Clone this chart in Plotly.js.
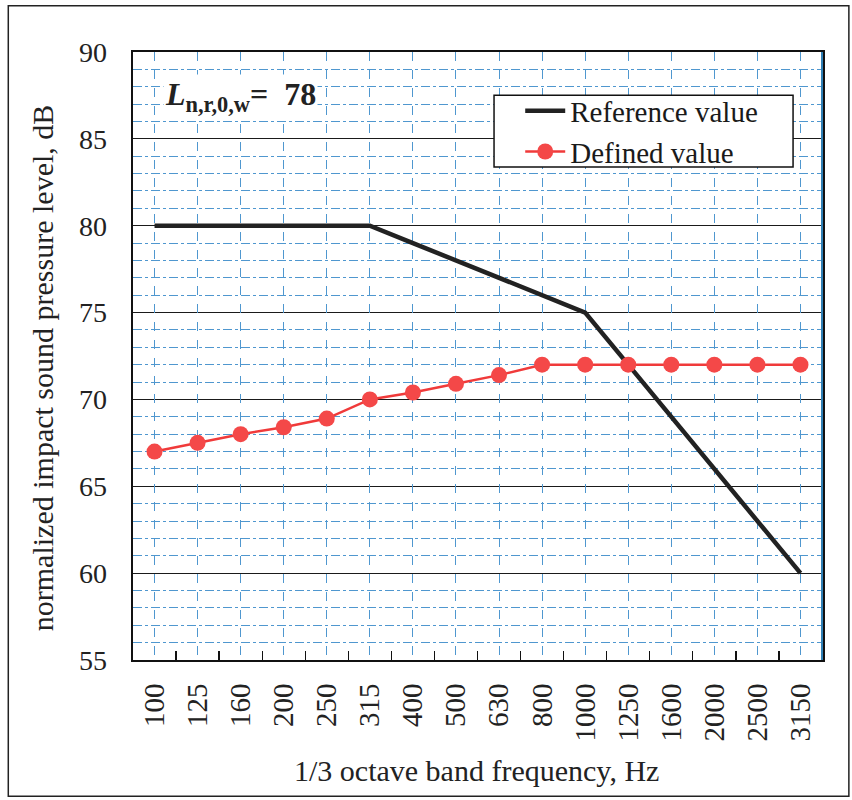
<!DOCTYPE html>
<html>
<head>
<meta charset="utf-8">
<script src="https://cdn.plot.ly/plotly-3.0.1.min.js"></script>
<style>
  html, body { margin: 0; padding: 0; background: #fff; }
  #chart { width: 852px; height: 800px; }
</style>
</head>
<body>
<div id="chart"></div>
<script>
// 1/3 octave band centre frequencies (Hz)
const frequencies = ["100", "125", "160", "200", "250", "315", "400", "500",
                     "630", "800", "1000", "1250", "1600", "2000", "2500", "3150"];
// Reference curve (shifted ISO 717-2 reference), dB
const referenceValue = [80, 80, 80, 80, 80, 80, 79, 78, 77, 76, 75, 72, 69, 66, 63, 60];
// Defined (measured) values, dB
const definedValue = [67.0, 67.5, 68.0, 68.4, 68.9, 70.0, 70.4, 70.9, 71.4, 72.0,
                      72.0, 72.0, 72.0, 72.0, 72.0, 72.0];
const yTicks = [55, 60, 65, 70, 75, 80, 85, 90];
const ratingText = "<b><i>L</i><sub>n,r,0,w</sub>=  78</b>";
const xTitle = "1/3 octave band frequency, Hz";
const yTitle = "normalized impact sound pressure level, dB";

const FONT = "'Liberation Serif', 'Times New Roman', serif";
const GRIDBLUE = "#4f97cf";

const traces = [
  {
    type: "scatter", mode: "lines", name: "Reference value",
    x: frequencies, y: referenceValue,
    line: { color: "#222222", width: 4.5 }
  },
  {
    type: "scatter", mode: "lines+markers", name: "Defined value",
    x: frequencies, y: definedValue,
    line: { color: "#f03a3a", width: 2.5 },
    marker: { color: "#f44848", size: 16, symbol: "circle" }
  },
  {
    type: "scatter", mode: "none", x: [], y: [], xaxis: "x2", yaxis: "y",
    showlegend: false, hoverinfo: "skip"
  }
];

const layout = {
  width: 852, height: 800,
  margin: { l: 133, r: 30, t: 52, b: 140 },
  paper_bgcolor: "#ffffff", plot_bgcolor: "#ffffff",
  font: { family: FONT, size: 28, color: "#222222" },
  showlegend: true,
  legend: {
    x: 0.562, y: 0.945, xanchor: "left", yanchor: "top",
    bgcolor: "rgba(0,0,0,0)", borderwidth: 0,
    font: { family: FONT, size: 29, color: "#1a1a1a" },
    tracegroupgap: 0, itemwidth: 40
  },
  xaxis: {
    type: "category",
    categoryarray: frequencies,
    range: [-0.5, frequencies.length - 0.5],
    tickangle: -90,
    tickfont: { family: FONT, size: 29, color: "#222" },
    ticks: "inside", ticklen: 9, tickwidth: 1.3, tickcolor: "#111",
    tickson: "boundaries", ticklabelstandoff: 10,
    showgrid: false,
    showline: true, linecolor: "#111", linewidth: 2, mirror: true,
    zeroline: false,
    automargin: false
  },
  xaxis2: {
    overlaying: "x", anchor: "y", side: "bottom",
    type: "linear",
    range: [-0.5, frequencies.length - 0.5],
    tick0: 0, dtick: 1,
    showticklabels: false, ticks: "",
    showgrid: true, gridcolor: GRIDBLUE, gridwidth: 1, griddash: "dash",
    showline: false, zeroline: false
  },
  yaxis: {
    range: [55, 90],
    tickvals: yTicks,
    ticks: "", ticklabelstandoff: 18,
    tickfont: { family: FONT, size: 28, color: "#222" },
    showgrid: true, gridcolor: "#1a1a1a", gridwidth: 1.1,
    minor: { dtick: 1, showgrid: true, gridcolor: GRIDBLUE, gridwidth: 1, griddash: "dashdot", ticks: "" },
    showline: true, linecolor: "#111", linewidth: 2.5, mirror: true,
    zeroline: false,
    automargin: false
  },
  annotations: [
    {
      xref: "paper", yref: "paper", x: 0.043, y: 0.926,
      xanchor: "left", yanchor: "middle",
      text: ratingText, showarrow: false,
      font: { family: FONT, size: 32, color: "#222" },
      bgcolor: "#ffffff"
    },
    {
      xref: "paper", yref: "paper", x: 0.4985, y: -0.1815,
      xanchor: "center", yanchor: "middle",
      text: xTitle, showarrow: false,
      font: { family: FONT, size: 30, color: "#222" }
    },
    {
      xref: "paper", yref: "paper", x: -0.132, y: 0.48,
      xanchor: "center", yanchor: "middle", textangle: -90,
      text: yTitle, showarrow: false,
      font: { family: FONT, size: 30, color: "#222" }
    }
  ],
  shapes: [
    // legend box
    { type: "rect", xref: "paper", yref: "paper", layer: "above",
      x0: 0.524, x1: 0.958, y0: 0.811, y1: 0.929,
      fillcolor: "#ffffff", line: { color: "#111", width: 1.5 } },
    { type: "line", xref: "paper", yref: "paper", x0: 1, x1: 1, y0: 0, y1: 1,
      line: { color: "#2f7fb5", width: 2 } },
    { type: "rect", xref: "paper", yref: "paper", x0: -0.181, x1: 1.039, y0: -0.224, y1: 1.076,
      line: { color: "#222", width: 1.5 } }
  ]
};

Plotly.newPlot("chart", traces, layout, { displayModeBar: false, staticPlot: true });
</script>
</body>
</html>
